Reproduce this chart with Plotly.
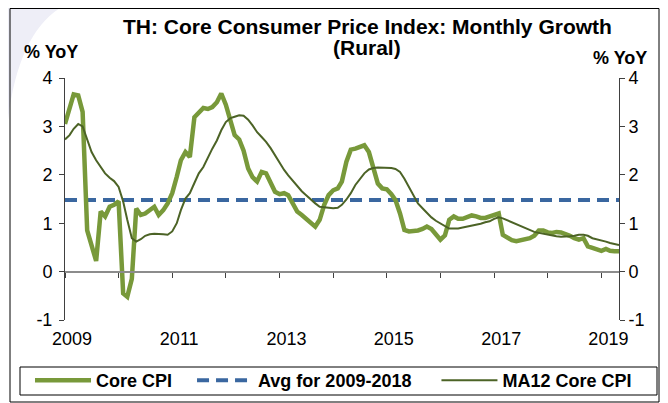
import pandas as pd
import plotly.graph_objects as go

# ---------------- data ----------------
start_month = "2009-01-01"
n_months = 125
months = pd.date_range(start_month, periods=n_months, freq="MS")

core_cpi = [
    3.05, 3.40, 3.66, 3.64, 3.30, 0.85, 0.50, 0.22, 1.24, 1.14, 1.34, 1.38,
    1.45, -0.45, -0.52, -0.15, 1.30, 1.17, 1.20, 1.27, 1.34, 1.17, 1.27, 1.41,
    1.62, 1.96, 2.30, 2.47, 2.37, 3.19, 3.28, 3.38, 3.36, 3.40, 3.50, 3.68,
    3.45, 3.12, 2.82, 2.73, 2.50, 2.13, 1.95, 1.86, 2.06, 2.03, 1.82, 1.65,
    1.60, 1.62, 1.58, 1.41, 1.24, 1.17, 1.10, 1.03, 0.93, 1.07, 1.38, 1.58,
    1.68, 1.72, 1.86, 2.27, 2.52, 2.54, 2.58, 2.61, 2.47, 2.15, 1.82, 1.72,
    1.70, 1.60, 1.48, 1.20, 0.86, 0.83, 0.83, 0.85, 0.88, 0.93, 0.88, 0.78,
    0.66, 0.75, 1.07, 1.14, 1.09, 1.09, 1.13, 1.16, 1.14, 1.11, 1.11, 1.14,
    1.17, 1.20, 0.76, 0.69, 0.65, 0.63, 0.65, 0.66, 0.69, 0.74, 0.85, 0.85,
    0.81, 0.80, 0.82, 0.81, 0.78, 0.74, 0.69, 0.66, 0.69, 0.52, 0.49, 0.47,
    0.43, 0.47, 0.43, 0.42, 0.42,
]

ma12_core_cpi = [
    2.73, 2.82, 2.95, 3.05, 3.00, 2.75, 2.47, 2.30, 2.15, 2.03, 1.94, 1.87,
    1.75, 1.45, 1.07, 0.69, 0.62, 0.67, 0.74, 0.77, 0.78, 0.78, 0.77, 0.76,
    0.83, 1.00, 1.27, 1.51, 1.62, 1.83, 2.03, 2.16, 2.37, 2.54, 2.71, 2.92,
    3.09, 3.17, 3.20, 3.23, 3.22, 3.14, 3.02, 2.88, 2.78, 2.68, 2.55, 2.40,
    2.23, 2.10, 1.99, 1.88, 1.75, 1.66, 1.58, 1.49, 1.41, 1.34, 1.33, 1.31,
    1.31, 1.32, 1.38, 1.49, 1.62, 1.79, 1.92, 2.03, 2.11, 2.14, 2.15, 2.15,
    2.15, 2.14, 2.12, 2.06, 1.92, 1.75, 1.58, 1.41, 1.31, 1.21, 1.12, 1.05,
    0.99, 0.93, 0.89, 0.89, 0.89, 0.91, 0.93, 0.94, 0.96, 0.99, 1.02, 1.04,
    1.09, 1.12, 1.10, 1.06, 1.02, 0.98, 0.93, 0.89, 0.85, 0.82, 0.80, 0.78,
    0.76, 0.74, 0.73, 0.72, 0.72, 0.73, 0.74, 0.76, 0.76, 0.74, 0.69, 0.67,
    0.65, 0.62, 0.59, 0.57, 0.55,
]

avg_2009_2018 = [1.48] * n_months

series_names = ["Core CPI", "Avg for 2009-2018", "MA12 Core CPI"]
title_lines = ["TH: Core Consumer Price Index: Monthly Growth", "(Rural)"]
axis_unit = "% YoY"
x_range = ["2009-01-01", "2019-05-01"]
y_range = [-1, 4]
y_tickvals = [-1, 0, 1, 2, 3, 4]
y_ticktext = ["-1", "0", "1", "2", "3", "4"]

# ---------------- styling ----------------
FONT = "Liberation Sans, Arial, sans-serif"
OFF = 8  # page body margin the figure sits inside
W, H = 668 - OFF, 403 - OFF
L, T = 65 - OFF, 78 - OFF
PW, PH = 554, 242
R, B = W - L - PW, H - T - PH
NB = "\u00a0"


def px_x(page_x):
    return (page_x - OFF - L) / PW


def px_y(page_y):
    return (H - B - (page_y - OFF)) / PH


fig = go.Figure()

fig.add_trace(go.Scatter(
    x=months, y=avg_2009_2018, name="<b>" + series_names[1] + NB * 4 + "</b>",
    mode="lines", line=dict(color="#3A67A0", width=4, dash="12px,7px"),
    legendrank=2,
))
fig.add_trace(go.Scatter(
    x=months, y=core_cpi, name="<b>" + series_names[0] + NB * 3 + "</b>",
    mode="lines", line=dict(color="#78993A", width=4.5),
    legendrank=1,
))
fig.add_trace(go.Scatter(
    x=months, y=ma12_core_cpi, name="<b>" + series_names[2] + "</b>",
    mode="lines", line=dict(color="#4C6326", width=2),
    legendrank=3,
))
# invisible helper trace so the secondary axes (zero-line ticks, right axis) render
fig.add_trace(go.Scatter(
    x=months, y=avg_2009_2018, xaxis="x2", yaxis="y2",
    mode="lines", line=dict(width=0, color="rgba(0,0,0,0)"),
    showlegend=False, hoverinfo="skip",
))

tickfont = dict(family=FONT, size=18, color="#000000")

fig.update_layout(
    template="none",
    width=W, height=H,
    margin=dict(l=L, r=R, t=T, b=B, autoexpand=False),
    paper_bgcolor="#FFFFFF", plot_bgcolor="#FFFFFF",
    showlegend=True,
    xaxis=dict(
        type="date", range=x_range, tick0="2009-01-01", dtick="M24",
        tickformat="%Y", showgrid=False, zeroline=False, showline=False,
        ticks="", tickfont=tickfont, ticklabelstandoff=6, ticklabelshift=7,
        automargin=False,
    ),
    xaxis2=dict(
        type="date", range=x_range, overlaying="x", anchor="free",
        position=(0 - y_range[0]) / (y_range[1] - y_range[0]),
        tick0="2009-01-01", dtick="M12", ticks="outside", ticklen=5,
        tickcolor="#404040", tickwidth=1,
        showticklabels=False, showgrid=False, zeroline=False,
        showline=True, linecolor="#8C8C8C", linewidth=2, automargin=False,
    ),
    yaxis=dict(
        range=y_range, tickvals=y_tickvals, ticktext=y_ticktext,
        ticks="outside", ticklen=5, tickwidth=1, ticklabelstandoff=3,
        tickcolor="#404040", showline=True, linecolor="#404040", linewidth=1,
        showgrid=False, zeroline=False, tickfont=tickfont, automargin=False,
    ),
    yaxis2=dict(
        range=y_range, tickvals=y_tickvals, ticktext=y_ticktext,
        overlaying="y", side="right", anchor="x",
        ticks="outside", ticklen=5, tickwidth=1, tickcolor="#404040",
        showline=True, linecolor="#404040", linewidth=1,
        showgrid=False, zeroline=False, tickfont=tickfont, automargin=False,
    ),
    legend=dict(
        orientation="h", x=px_x(30), xanchor="left", y=px_y(362), yanchor="top",
        borderwidth=0, bgcolor="rgba(0,0,0,0)",
        font=dict(family=FONT, size=18, color="#000000"),
        traceorder="normal", itemwidth=56,
    ),
)

for line_text, cy in zip(title_lines, [27, 47]):
    fig.add_annotation(
        text="<b>" + line_text + "</b>", xref="paper", yref="paper",
        x=px_x(367), y=px_y(cy), xanchor="center", yanchor="middle",
        showarrow=False, font=dict(family=FONT, size=21, color="#000000"),
    )
fig.add_annotation(
    text="<b>" + axis_unit + "</b>", xref="paper", yref="paper",
    x=px_x(51), y=px_y(52), xanchor="center", yanchor="middle",
    showarrow=False, font=dict(family=FONT, size=18, color="#000000"),
)
fig.add_annotation(
    text="<b>" + axis_unit + "</b>", xref="paper", yref="paper",
    x=px_x(620), y=px_y(58), xanchor="center", yanchor="middle",
    showarrow=False, font=dict(family=FONT, size=18, color="#000000"),
)

# faint slide-background wedge in the top-left corner
fig.add_shape(
    type="path", xref="paper", yref="paper",
    path="M {:.4f},{:.4f} L {:.4f},{:.4f} Q {:.4f},{:.4f} {:.4f},{:.4f} Z".format(
        px_x(OFF), px_y(OFF), px_x(60), px_y(OFF), px_x(18), px_y(35), px_x(OFF), px_y(120)),
    line=dict(width=0), fillcolor="#EEEEF7", layer="below",
)

# outer chart frame
fig.add_shape(
    type="rect", xref="paper", yref="paper",
    x0=px_x(10), x1=px_x(659), y0=px_y(402), y1=px_y(OFF + 0.5),
    line=dict(color="#000000", width=1), fillcolor="rgba(0,0,0,0)", layer="below",
)

# legend box
fig.add_shape(
    type="rect", xref="paper", yref="paper",
    x0=px_x(20), x1=px_x(657), y0=px_y(395), y1=px_y(367),
    line=dict(color="#000000", width=1), fillcolor="rgba(0,0,0,0)", layer="below",
)

fig.write_html("out.html")
